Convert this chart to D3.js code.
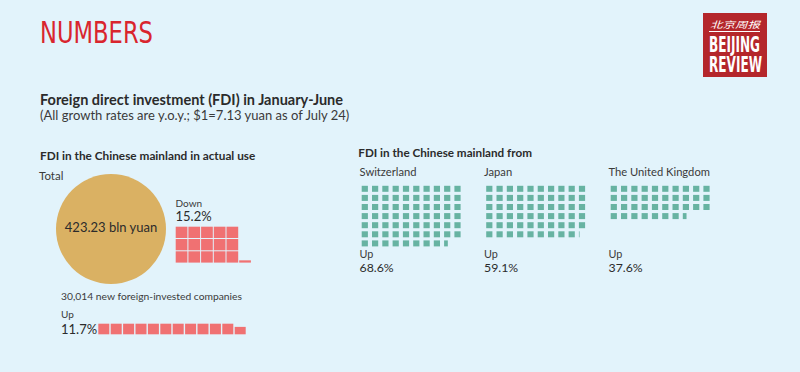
<!DOCTYPE html>
<html>
<head>
<meta charset="utf-8">
<script src="https://cdn.jsdelivr.net/npm/d3@7"></script>
<style>
  html, body { margin: 0; padding: 0; background: #e2f3fb; }
  svg { display: block; }
  text { font-family: Lato, "Open Sans", sans-serif; fill: #2b2b2b; }
</style>
</head>
<body>
<svg id="chart" width="800" height="372"></svg>
<script>
// --- data ---
var countries = ["Switzerland", "Japan", "The United Kingdom"];
var countryGrowth = [68.6, 59.1, 37.6];          // % up, y.o.y.
var fdiTotal = 423.23;                           // bln yuan
var fdiChange = 15.2;                            // % down
var newCompanies = 30014;
var companyGrowth = 11.7;                        // % up

var COLOR_RED = "#f07172";
var COLOR_TEAL = "#67b3a2";
var COLOR_GOLD = "#dab163";

var svg = d3.select("#chart");

svg.append("rect")
	.attr("width", 800).attr("height", 372)
	.attr("fill", "#e2f3fb");

// header
svg.append("text")
	.attr("x", 40).attr("y", 42.5)
	.attr("textLength", 113).attr("lengthAdjust", "spacingAndGlyphs")
	.style("font-family", "'Liberation Sans Narrow', 'DejaVu Sans Condensed', sans-serif")
	.style("font-size", "31px")
	.style("fill", "#d9252e")
	.text("NUMBERS");

// logo
var logo = svg.append("g").attr("transform", "translate(703,13)");
logo.append("rect").attr("width", 64).attr("height", 64).attr("fill", "#b4262b");
logo.append("text")
	.attr("x", 7).attr("y", 15)
	.attr("textLength", 50).attr("lengthAdjust", "spacingAndGlyphs")
	.style("font-family", "'Noto Sans CJK SC', sans-serif")
	.style("font-size", "9px").style("font-style", "italic")
	.style("fill", "#fff")
	.text("北京周报");
logo.append("line")
	.attr("x1", 6).attr("x2", 57).attr("y1", 18.5).attr("y2", 18.5)
	.attr("stroke", "#fff").attr("stroke-width", 1.2);
var logoText = logo.append("text")
	.style("font-family", "'Liberation Sans Narrow', 'DejaVu Sans Condensed', sans-serif")
	.style("font-size", "22px").style("font-weight", "bold")
	.style("fill", "#fff");
[["BEIJING", 38.5, 51], ["REVIEW", 58.5, 53]].forEach(function(d) {
	logoText.append("tspan")
		.attr("x", 6).attr("y", d[1])
		.attr("textLength", d[2]).attr("lengthAdjust", "spacingAndGlyphs")
		.text(d[0]);
});

// titles
svg.append("text")
	.attr("x", 40).attr("y", 104.5)
	.style("font-size", "14.5px").style("font-weight", "bold")
	.text("Foreign direct investment (FDI) in January-June");
svg.append("text")
	.attr("x", 40).attr("y", 120)
	.style("font-size", "13px").style("fill", "#3a3a3a")
	.text("(All growth rates are y.o.y.; $1=7.13 yuan as of July 24)");

/**
 * Draws a waffle of unit squares, one per percentage point.
 * Partial cell is appended after the last full cell, shrunk by
 * width ("w") or height ("h").
 */
function drawWaffle(g, value, cols, x, y, cw, ch, color, partialMode) {
	var full = Math.floor(value);
	var frac = value - full;
	var cells = d3.range(full).map(function(i) {
		return { col: i % cols, row: Math.floor(i / cols), f: 1 };
	});
	if (frac > 0.001) {
		if (partialMode == "h")
			cells.push({ col: (full - 1) % cols + 1, row: Math.floor((full - 1) / cols), f: frac });
		else
			cells.push({ col: full % cols, row: Math.floor(full / cols), f: frac });
	}
	var xs = d3.scaleLinear().domain([0, 1]).range([x, x + cw.pitch]);
	var ys = d3.scaleLinear().domain([0, 1]).range([y, y + ch.pitch]);

	g.selectAll(null).data(cells).enter().append("rect")
		.attr("x", function(d) { return xs(d.col); })
		.attr("y", function(d) { return partialMode == "h" ? ys(d.row) + ch.size * (1 - d.f) : ys(d.row); })
		.attr("width", function(d) { return partialMode == "h" ? cw.size : cw.size * d.f; })
		.attr("height", function(d) { return partialMode == "h" ? ch.size * d.f : ch.size; })
		.attr("fill", color);
}

// --- left block ---
svg.append("text")
	.attr("x", 40).attr("y", 160)
	.style("font-size", "11.8px").style("font-weight", "bold")
	.text("FDI in the Chinese mainland in actual use");
svg.append("text")
	.attr("x", 39).attr("y", 179.5)
	.style("font-size", "11.5px").style("fill", "#3a3a3a")
	.text("Total");

var r = d3.scaleSqrt().domain([0, fdiTotal]).range([0, 55]);
svg.append("circle")
	.attr("cx", 111).attr("cy", 229)
	.attr("r", r(fdiTotal))
	.attr("fill", COLOR_GOLD);
svg.append("text")
	.attr("x", 111).attr("y", 231.5)
	.attr("text-anchor", "middle")
	.style("font-size", "13px")
	.text(d3.format(".2f")(fdiTotal) + " bln yuan");

svg.append("text")
	.attr("x", 175.5).attr("y", 206.7)
	.style("font-size", "10px").style("fill", "#3a3a3a")
	.text("Down");
svg.append("text")
	.attr("x", 175.5).attr("y", 220.7)
	.style("font-size", "13px")
	.text(fdiChange + "%");
drawWaffle(svg.append("g"), fdiChange, 5, 175.7, 226.7,
	{ size: 11.7, pitch: 12.7 }, { size: 11.3, pitch: 12.3 }, COLOR_RED, "h");

svg.append("text")
	.attr("x", 61).attr("y", 300)
	.style("font-size", "10.3px").style("fill", "#3a3a3a")
	.text(d3.format(",")(newCompanies) + " new foreign-invested companies");
svg.append("text")
	.attr("x", 61).attr("y", 318.3)
	.style("font-size", "10px").style("fill", "#3a3a3a")
	.text("Up");
svg.append("text")
	.attr("x", 61).attr("y", 334)
	.style("font-size", "13px")
	.text(companyGrowth + "%");
drawWaffle(svg.append("g"), companyGrowth, 20, 98.3, 323.7,
	{ size: 11, pitch: 12.4 }, { size: 10.6, pitch: 12 }, COLOR_RED, "h");

// --- right block ---
svg.append("text")
	.attr("x", 358.3).attr("y", 157.3)
	.style("font-size", "11.7px").style("font-weight", "bold")
	.text("FDI in the Chinese mainland from");

var colX = d3.scalePoint().domain(countries).range([359.5, 608.5]);

countries.forEach(function(c, i) {
	var x0 = colX(c);
	svg.append("text")
		.attr("x", x0).attr("y", 176)
		.style("font-size", "11.2px").style("fill", "#3a3a3a")
		.text(c);
	drawWaffle(svg.append("g"), countryGrowth[i], 10, x0 + 2.2, 185.8,
		{ size: 6.2, pitch: 10.3 }, { size: 6.0, pitch: 9.1 }, COLOR_TEAL, "w");
	svg.append("text")
		.attr("x", x0).attr("y", 258.3)
		.style("font-size", "10.8px").style("fill", "#3a3a3a")
		.text("Up");
	svg.append("text")
		.attr("x", x0).attr("y", 271.7)
		.style("font-size", "12.3px")
		.text(countryGrowth[i] + "%");
});
</script>
</body>
</html>
